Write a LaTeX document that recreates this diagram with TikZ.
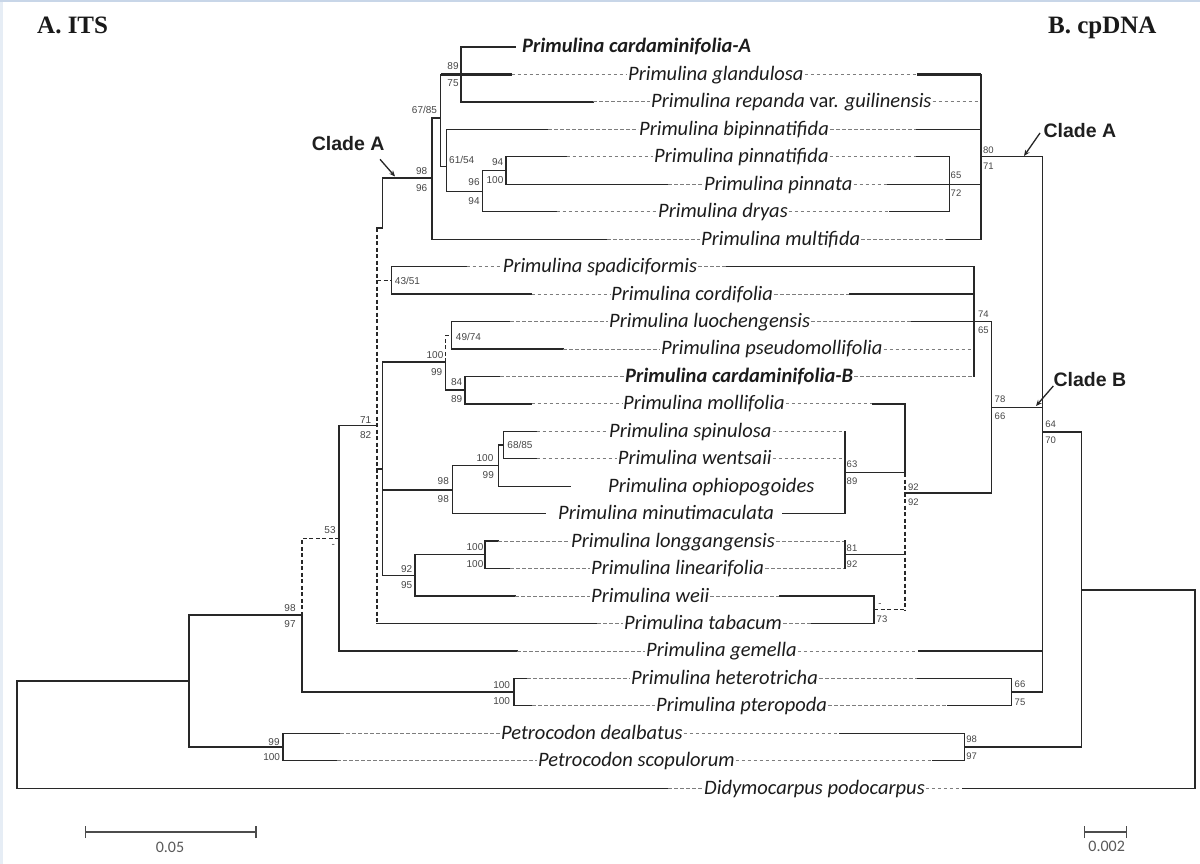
\documentclass[tikz,border=0pt]{standalone}
\usepackage{fontspec}
\setmainfont{Carlito}
\newfontfamily\arialf{Liberation Sans}
\newfontfamily\timesf{Liberation Serif}
\usetikzlibrary{arrows.meta}
\definecolor{bord}{RGB}{200,214,232}
\definecolor{lnc}{RGB}{40,40,40}
\definecolor{dshc}{RGB}{125,125,125}
\definecolor{bsc}{RGB}{70,70,70}
\definecolor{txc}{RGB}{28,28,28}
% leaf row: id, y, left node x, left solid end, label x, text, right solid start, right node x
\newcommand\lf[8]{%
  \coordinate (L#1) at (#3,#2);
  \coordinate (a#1) at (#4,#2);
  \node[tx] (t#1) at (#5,#2) {#6};
  \coordinate (b#1) at (#7,#2);
  \coordinate (R#1) at (#8,#2);
  \draw[lsty] (L#1) -- (a#1);
  \draw[cn] (a#1) -- (t#1.west);
  \draw[cn] (t#1.east) -- (b#1);
  \draw[rsty] (b#1) -- (R#1);
}
\begin{document}
\begin{tikzpicture}[x=1pt,y=-1pt,
  br/.style={draw=lnc, line width=1.3pt, line cap=rect},
  thk/.style={draw=lnc, line width=2.6pt},
  tdsh/.style={draw=lnc, line width=1.3pt, dash pattern=on 4pt off 2.5pt},
  cn/.style={draw=dshc, line width=0.8pt, dash pattern=on 3.5pt off 2.5pt},
  lsty/.style={br}, rsty/.style={br},
  tx/.style={font=\fontsize{20.5}{24}\selectfont\itshape, text=txc, inner sep=1pt,
     anchor=west, text height=17pt, text depth=5pt},
  bs/.style={font=\arialf\fontsize{10}{11}\selectfont, text=bsc, inner sep=0pt},
  bsr/.style={font=\arialf\fontsize{9.5}{11}\selectfont, text=bsc, inner sep=0pt},
  clade/.style={font=\arialf\bfseries\fontsize{19.5}{22}\selectfont, text=black!88, inner sep=0pt, anchor=base west},
  ttl/.style={font=\timesf\bfseries\fontsize{25}{28}\selectfont, text=black!90, inner sep=0pt, anchor=base west},
  arr/.style={draw=black!85, line width=1.3pt, -{Stealth[length=6pt,width=5pt]}},
  sbar/.style={draw=black!70, line width=1.2pt},
  sbt/.style={font=\fontsize{16}{18}\selectfont, text=black!65, inner sep=0pt}
]
\useasboundingbox (0,0) rectangle (1200,864);
\fill[white] (0,0) rectangle (1200,864);
\fill[bord!45] (0,0) rectangle (3,864);
\fill[bord] (0,0) rectangle (1200,1.6);

% titles
\node[ttl] (ta) at (37,34) {A. ITS};
\node[ttl] (tb) at (1048,34) {B. cpDNA};

% ---------------- leaves ----------------
\coordinate (L1) at (461,47); \coordinate (a1) at (515,47);
\node[tx] (t1) at (521,47) {\bfseries Primulina cardaminifolia-A};
\draw[br] (L1) -- (a1);
\begin{scope}[lsty/.style={thk}, rsty/.style={thk}]
\lf{2}{74.45}{440.7}{511.7}{627}{Primulina glandulosa}{917}{981}
\end{scope}
\lf{3}{101.9}{461}{593}{650}{Primulina repanda {\upshape var.} guilinensis}{981}{981}
\lf{4}{129.35}{446.7}{548}{638}{Primulina bipinnatifida}{917}{981}
\lf{5}{156.8}{506}{566.7}{653}{Primulina pinnatifida}{917}{949.3}
\lf{6}{184.25}{506}{668}{703}{Primulina pinnata}{888}{981}
\lf{7}{211.7}{482.7}{556.7}{657}{Primulina dryas}{890}{949.3}
\lf{8}{239.15}{432}{607}{700}{Primulina multifida}{946.7}{981}
\lf{9}{266.6}{391.7}{466.7}{501.7}{Primulina spadiciformis}{726.7}{974}
\lf{10}{294.05}{391.7}{531.7}{610}{Primulina cordifolia}{850}{974}
\lf{11}{321.5}{451.7}{510}{608}{Primulina luochengensis}{912}{974}
\lf{12}{348.95}{451.7}{563}{660}{Primulina pseudomollifolia}{974}{974}
\lf{13}{376.4}{465}{500}{624}{\bfseries Primulina cardaminifolia-B}{974}{974}
\begin{scope}[lsty/.style={thk}, rsty/.style={thk}]
\lf{14}{403.85}{465}{531.7}{622}{Primulina mollifolia}{872}{905}
\end{scope}
\lf{15}{431.3}{503.3}{536.7}{608}{Primulina spinulosa}{845}{845}
\lf{16}{458.75}{503.3}{536.7}{616.7}{Primulina wentsaii}{845}{845}
\coordinate (L17) at (498.3,486.2); \coordinate (a17) at (570.7,486.2);
\node[tx] (t17) at (607,486.2) {Primulina ophiopogoides};
\draw[br] (L17) -- (a17);
\coordinate (L18) at (452.3,513.65); \coordinate (a18) at (545,513.65);
\node[tx] (t18) at (557,513.65) {Primulina minutimaculata};
\coordinate (b18) at (783,513.65); \coordinate (R18) at (845,513.65);
\draw[br] (L18) -- (a18); \draw[br] (b18) -- (R18);
\lf{19}{541.1}{485}{498}{570}{Primulina longgangensis}{845}{845}
\lf{20}{568.55}{485}{510}{590}{Primulina linearifolia}{845}{845}
\lf{21}{596}{415}{515}{590}{Primulina weii}{780}{874}
\lf{22}{623.45}{377}{597}{623}{Primulina tabacum}{811.7}{874}
\begin{scope}[rsty/.style={thk}]
\lf{23}{650.9}{339}{517}{645}{Primulina gemella}{918}{1042.7}
\end{scope}
\lf{24}{678.35}{514}{527}{630}{Primulina heterotricha}{918}{1011.7}
\lf{25}{705.8}{514}{532}{655}{Primulina pteropoda}{948}{1011.7}
\lf{26}{733.25}{283}{340}{500}{Petrocodon dealbatus}{840}{964.3}
\lf{27}{760.7}{283}{337}{537}{Petrocodon scopulorum}{933}{964.3}
\lf{28}{788.15}{17}{668}{703}{Didymocarpus podocarpus}{963}{1195}

% ---------------- ITS tree (left) ----------------
\coordinate (n61) at (446.7,166.7);
\coordinate (n96) at (482.7,191.2);
\coordinate (n94) at (506,170.5);
\coordinate (n67) at (440.7,118);
\coordinate (nCA) at (432,178);
\coordinate (sCA) at (382.7,178);
\coordinate (sCB) at (382.7,228);
\coordinate (n71t) at (377,228);
\coordinate (n71) at (377,425.7);
\coordinate (n53t) at (339,425.7);
\coordinate (nSp) at (391.7,280.3);
\coordinate (nSpj) at (377,280.3);
\coordinate (nBj0) at (377,469);
\coordinate (nBj) at (382.7,469);
\coordinate (nBt) at (382.7,362);
\coordinate (nBb) at (382.7,575.4);
\coordinate (n100) at (445.3,362);
\coordinate (n49j) at (445.3,335.2);
\coordinate (n49) at (451.7,335.2);
\coordinate (n84j) at (445.3,390.1);
\coordinate (n84) at (465,390.1);
\coordinate (n98j) at (382.7,490);
\coordinate (n98) at (452.3,490);
\coordinate (n100b) at (498.3,465.6);
\coordinate (n68) at (503.3,445);
\coordinate (n92) at (415,575.4);
\coordinate (n100c) at (485,554.8);
\coordinate (n53) at (339,538.3);
\coordinate (n98a) at (302,538.3);
\coordinate (n1j) at (302,615);
\coordinate (nHj) at (302,692);
\coordinate (nHet) at (514,692);
\coordinate (n1t) at (189,615);
\coordinate (n1b) at (189,747);
\coordinate (n1) at (189,681);
\coordinate (nPet) at (283,747);
\coordinate (r0t) at (17,681);

\draw[br] (L1) -- (L3);
\draw[br] (L2) -- (L2 |- n61) -- (n61);
\draw[br] (nCA) |- (n67);
\draw[br] (nCA) -- (L8);
\draw[br] (sCA) -- (nCA);
\draw[br] (L4) -- (L4 |- n96) -- (n96);
\draw[br] (L7) -- (n96 |- n94) -- (n94);
\draw[br] (L5) -- (L6);
\draw[br] (sCA) -- (sCB) -- (n71t);
\draw[tdsh] (n71t) -- (L22);
\draw[br] (n53t) -- (n71);
\draw[tdsh] (nSpj) -- (nSp);
\draw[br] (L9) -- (L10);
\draw[br] (nBj0) -- (nBj);
\draw[br] (nBt) -- (nBb);
\draw[br] (nBt) -- (n100);
\draw[tdsh] (n100) -- (n49j) -- (n49);
\draw[br] (n100) -- (n84j) -- (n84);
\draw[br] (L11) -- (L12);
\draw[br] (L13) -- (L14);
\draw[br] (n98j) -- (n98);
\draw[br] (L18) -- (L18 |- n100b) -- (n100b);
\draw[br] (L17) -- (L17 |- n68) -- (n68);
\draw[br] (L15) -- (L16);
\draw[br] (nBb) -- (n92);
\draw[br] (L21) -- (L21 |- n100c) -- (n100c);
\draw[br] (L19) -- (L20);
\draw[br] (n53t) -- (L23);
\draw[tdsh] (n53) -- (n98a) -- (n1j);
\draw[br] (n1j) -- (nHj) -- (nHet);
\draw[br] (L24) -- (L25);
\draw[br] (n1j) -- (n1t) -- (n1b) -- (nPet);
\draw[br] (L26) -- (L27);
\draw[br] (n1) -- (r0t) -- (L28);

% ---------------- cpDNA tree (right) ----------------
\coordinate (rCA) at (981,156.8);
\coordinate (rA) at (1042.7,156.8);
\coordinate (r65) at (949.3,184.25);
\coordinate (r74) at (974,321.5);
\coordinate (rBt) at (991.7,321.5);
\coordinate (rBb) at (991.7,493);
\coordinate (rB) at (991.7,407.3);
\coordinate (rBj) at (1042.7,407.3);
\coordinate (r92) at (905,493);
\coordinate (r92s) at (905,473);
\coordinate (r63) at (845,472.5);
\coordinate (r63j) at (905,472.5);
\coordinate (r81) at (845,554.8);
\coordinate (r81j) at (905,554.8);
\coordinate (r73) at (874,609.7);
\coordinate (r73j) at (905,609.7);
\coordinate (rHj) at (1042.7,692);
\coordinate (rHet) at (1011.7,692);
\coordinate (rN64) at (1042.7,432);
\coordinate (rN1t) at (1081.7,432);
\coordinate (rN1b) at (1081.7,747);
\coordinate (rN1) at (1081.7,590);
\coordinate (rPet) at (964.3,747);
\coordinate (rRt) at (1195,590);

\draw[br] (R2) -- (R8);
\draw[br] (rCA) -- (rA);
\draw[br] (R5) -- (R7);
\draw[br] (r65) -- (R6);
\draw[br] (R9) -- (R13);
\draw[br] (r74) -- (rBt) -- (rBb);
\draw[br] (rB) -- (rBj);
\draw[br] (rBb) -- (r92);
\draw[br] (R14) -- (r92s);
\draw[tdsh] (r92s) -- (r73j);
\draw[br] (R15) -- (R18);
\draw[br] (r63) -- (r63j);
\draw[br] (R19) -- (R20);
\draw[br] (r81) -- (r81j);
\draw[br] (R21) -- (R22);
\draw[tdsh] (r73) -- (r73j);
\draw[br] (rA) -- (rHj);
\draw[br] (rHet) -- (rHj);
\draw[br] (R24) -- (R25);
\draw[br] (rN64) -- (rN1t) -- (rN1b);
\draw[br] (rPet) -- (rN1b);
\draw[br] (R26) -- (R27);
\draw[br] (rN1) -- (rRt) -- (R28);

% ---------------- support values (left) ----------------
\node[bs] (s1) at (453,66) {89};
\node[bs] (s2) at (453,83.5) {75};
\node[bs] (s3) at (424.5,110) {67/85};
\node[bs] (s4) at (421.7,171) {98};
\node[bs] (s5) at (421.7,187.7) {96};
\node[bs] (s6) at (461.7,160) {61/54};
\node[bs] (s7) at (497.7,162.3) {94};
\node[bs] (s8) at (495,180) {100};
\node[bs] (s9) at (474,182.3) {96};
\node[bs] (s10) at (474,201) {94};
\node[bs] (s11) at (407.5,281) {43/51};
\node[bs] (s12) at (468.5,337) {49/74};
\node[bs] (s13) at (435,355) {100};
\node[bs] (s14) at (436.7,372) {99};
\node[bs] (s15) at (456.7,382.3) {84};
\node[bs] (s16) at (456.7,399) {89};
\node[bs] (s17) at (365.7,420) {71};
\node[bs] (s18) at (365.7,435) {82};
\node[bs] (s19) at (520,445.3) {68/85};
\node[bs] (s20) at (485,458) {100};
\node[bs] (s21) at (488.3,474.7) {99};
\node[bs] (s22) at (443.3,481.3) {98};
\node[bs] (s23) at (443.3,498.7) {98};
\node[bs] (s24) at (330,529.7) {53};
\node[bs] (s25) at (333.3,546) {-};
\node[bs] (s26) at (475,547.3) {100};
\node[bs] (s27) at (475,564) {100};
\node[bs] (s28) at (406.7,569) {92};
\node[bs] (s29) at (406.7,585.3) {95};
\node[bs] (s30) at (290,608) {98};
\node[bs] (s31) at (290,624) {97};
\node[bs] (s32) at (501.7,685.3) {100};
\node[bs] (s33) at (501.7,701) {100};
\node[bs] (s34) at (274,741.7) {99};
\node[bs] (s35) at (271.7,757) {100};

% ---------------- support values (right) ----------------
\node[bsr] (q1) at (988.3,150) {80};
\node[bsr] (q2) at (988.3,166.7) {71};
\node[bsr] (q3) at (956,175.7) {65};
\node[bsr] (q4) at (956,192.7) {72};
\node[bsr] (q5) at (983.3,314) {74};
\node[bsr] (q6) at (983.3,330.7) {65};
\node[bsr] (q7) at (1000,399.7) {78};
\node[bsr] (q8) at (1000,416.3) {66};
\node[bsr] (q9) at (1050.7,424) {64};
\node[bsr] (q10) at (1050.7,440.7) {70};
\node[bsr] (q11) at (913.3,487) {92};
\node[bsr] (q12) at (913.3,502.3) {92};
\node[bsr] (q13) at (852,464.7) {63};
\node[bsr] (q14) at (852,481.3) {89};
\node[bsr] (q15) at (852,548) {81};
\node[bsr] (q16) at (852,564) {92};
\node[bsr] (q17) at (880,605) {-};
\node[bsr] (q18) at (882,619.3) {73};
\node[bsr] (q19) at (1020,684.3) {66};
\node[bsr] (q20) at (1020,702) {75};
\node[bsr] (q21) at (971.7,739.3) {98};
\node[bsr] (q22) at (971.7,756) {97};

% ---------------- clade labels ----------------
\node[clade] (cA1) at (311.7,150.7) {Clade A};
\coordinate (cA1s) at (380,159.3); \coordinate (cA1e) at (395,176.5);
\draw[arr] (cA1s) -- (cA1e);
\node[clade] (cA2) at (1043.3,137.3) {Clade A};
\coordinate (cA2s) at (1040,133); \coordinate (cA2e) at (1024,156);
\draw[arr] (cA2s) -- (cA2e);
\node[clade] (cB) at (1053.3,386.3) {Clade B};
\coordinate (cBs) at (1053.3,386); \coordinate (cBe) at (1036,406);
\draw[arr] (cBs) -- (cBe);

% ---------------- scale bars ----------------
\coordinate (sb1) at (85.7,832); \coordinate (sb2) at (256,832);
\draw[sbar] (sb1) -- (sb2);
\draw[sbar] ([yshift=-6pt]sb1) -- ([yshift=6pt]sb1);
\draw[sbar] ([yshift=-6pt]sb2) -- ([yshift=6pt]sb2);
\node[sbt] (sbl) at (170,847) {0.05};
\coordinate (sc1) at (1084.3,832); \coordinate (sc2) at (1126.7,832);
\draw[sbar] (sc1) -- (sc2);
\draw[sbar] ([yshift=-6pt]sc1) -- ([yshift=6pt]sc1);
\draw[sbar] ([yshift=-6pt]sc2) -- ([yshift=6pt]sc2);
\node[sbt] (scl) at (1106.7,846) {0.002};
\end{tikzpicture}
\end{document}
